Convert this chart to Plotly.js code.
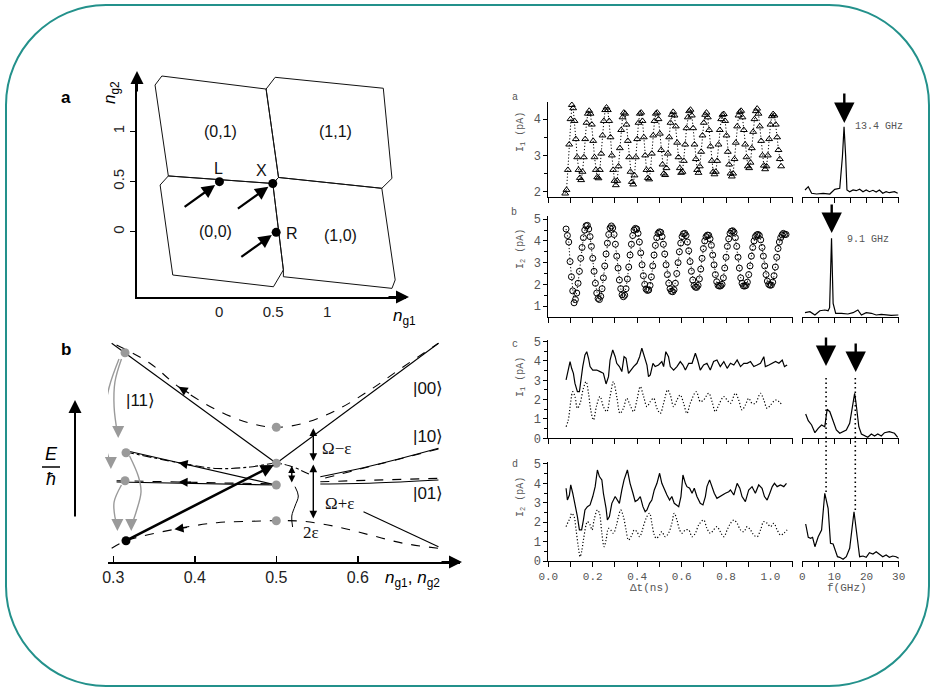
<!DOCTYPE html>
<html><head><meta charset="utf-8">
<script src="https://cdn.plot.ly/plotly-3.0.1.min.js"></script>
<style>html,body{margin:0;padding:0;background:#fff}#chart{width:937px;height:693px}</style>
</head><body><div id="chart"></div>
<script>
// ---------------- Panel a (left): stability diagram cells, (n_g1, n_g2) ----------------
const cell01_ng1 = [-0.47,-0.593,-0.53,0.435,0.55,0.497,-0.47];
const cell01_ng2 = [0.555,1.46,1.55,1.42,0.54,0.48,0.555];
const cell11_ng1 = [0.55,0.435,0.519,1.52,1.6,1.506,0.55];
const cell11_ng2 = [0.54,1.42,1.537,1.428,0.531,0.432,0.54];
const cell00_ng1 = [-0.47,0.497,0.595,0.503,-0.429,-0.546,-0.47];
const cell00_ng2 = [0.555,0.48,-0.38,-0.548,-0.431,0.465,0.555];
const cell10_ng1 = [0.497,0.55,1.506,1.63,1.6,0.595,0.595,0.497];
const cell10_ng2 = [0.48,0.54,0.432,-0.48,-0.564,-0.448,-0.38,0.48];
const cellLabels = ["(0,1)","(1,1)","(0,0)","(1,0)"];
const cellLabelNg1 = [0.009,1.074,-0.037,1.12];
const cellLabelNg2 = [0.996,0.996,0.0,-0.033];
const pointNames = ["L","X","R"];
const pointNg1 = [0.003,0.497,0.528];
const pointNg2 = [0.498,0.48,-0.006];
const pointNameNg1 = [-0.006,0.395,0.673];
const pointNameNg2 = [0.631,0.614,-0.016];
const arrowTipNg1 = [-0.037,0.456,0.488];
const arrowTipNg2 = [0.465,0.448,-0.033];
const axisTicksA = [0,0.5,1];

// ---------------- Panel b (left): energy levels vs n_g ----------------
const bTicks = [0.3,0.4,0.5,0.6];
const d1N = [0.304,0.345,0.38,0.427,0.468,0.5,0.533,0.574,0.615,0.656,0.699];
const d1E = [2.17,1.987,1.753,1.52,1.387,1.347,1.387,1.52,1.72,1.953,2.187];
const s1N = [0.298,0.5];            const s1E = [2.187,0.987];
const s2N = [0.5,0.699];            const s2E = [0.987,2.187];
const s3N = [0.312,0.5];            const s3E = [1.12,0.77];
const d2N = [0.314,0.38,0.427,0.468,0.5,0.517,0.54];
const d2E = [1.103,0.993,0.935,0.95,0.987,0.96,0.88];
const d3N = [0.304,0.38,0.5];       const d3E = [0.813,0.80,0.78];
const s4N = [0.304,0.5];            const s4E = [0.80,0.77];
const r1N = [0.554,0.6,0.65,0.699]; const r1E = [0.853,0.93,1.03,1.137];
const r1dN = [0.56,0.632,0.699];    const r1dE = [0.84,0.99,1.13];
const r2N = [0.554,0.62,0.699];     const r2E = [0.78,0.79,0.82];
const r2dN = [0.554,0.699];         const r2dE = [0.803,0.837];
const s5N = [0.607,0.699];          const s5E = [0.503,0.153];
const d4N = [0.298,0.316,0.375,0.427,0.468,0.5,0.533,0.574,0.615,0.656,0.699];
const d4E = [0.137,0.213,0.327,0.393,0.407,0.413,0.407,0.353,0.27,0.187,0.137];
const grayDotN = [0.3144,0.3156,0.3144,0.5,0.5,0.5,0.5];
const grayDotE = [2.093,1.093,0.813,1.347,0.987,0.77,0.413];
const blackDotN = [0.3156];         const blackDotE = [0.213];
const g1N = [0.307,0.295,0.289,0.291,0.297]; const g1E = [2.03,1.75,1.45,1.15,0.98];
const g2N = [0.31,0.302,0.301,0.305];        const g2E = [2.03,1.8,1.55,1.29];
const g3N = [0.32,0.331,0.334,0.328,0.322];  const g3E = [1.06,0.85,0.7,0.5,0.36];
const g4N = [0.31,0.301,0.302,0.305];        const g4E = [0.77,0.6,0.45,0.36];
const grayTipN = [0.297,0.306,0.322,0.305];  const grayTipE = [0.93,1.24,0.31,0.31];
const waveN = [0.523,0.527,0.523,0.519,0.52]; const waveE = [0.753,0.66,0.56,0.46,0.35];
const ketText = ["|11⟩","|00⟩","|10⟩","|01⟩"];
const ketN = [0.333,0.6865,0.6865,0.6865];   const ketE = [1.62,1.737,1.253,0.687];

// ---------------- Right panels: time traces ----------------
const tA0 = 0.076, dtA = 0.006;
const I1a = [1.95,2.05,2.6,3.3,4.0,4.39,4.3,3.95,3.45,2.95,
 2.6,2.38,2.32,2.55,2.95,3.45,3.9,4.15,4.23,4.15,
 3.85,3.4,2.95,2.6,2.4,2.37,2.6,3.05,3.55,3.95,
 4.25,4.32,4.25,3.95,3.5,3.0,2.6,2.3,2.18,2.3,
 2.7,3.2,3.7,4.05,4.18,4.15,3.85,3.4,2.95,2.55,
 2.27,2.2,2.45,2.95,3.45,3.9,4.15,4.18,3.95,3.5,
 3.0,2.6,2.38,2.34,2.6,3.05,3.55,3.95,4.15,4.18,
 4.0,3.6,3.15,2.75,2.5,2.46,2.65,3.05,3.5,3.9,
 4.12,4.2,4.1,3.8,3.35,2.95,2.65,2.52,2.55,2.85,
 3.3,3.75,4.05,4.22,4.26,4.1,3.75,3.3,2.9,2.6,
 2.52,2.7,3.1,3.55,3.9,4.12,4.18,4.05,3.7,3.25,
 2.85,2.55,2.48,2.55,2.85,3.3,3.7,4.0,4.12,4.14,
 3.95,3.55,3.1,2.75,2.5,2.42,2.5,2.9,3.35,3.8,
 4.1,4.2,4.23,4.05,3.7,3.3,2.95,2.7,2.65,2.8,
 3.2,3.65,4.0,4.22,4.29,4.15,3.8,3.4,3.0,2.72,
 2.62,2.7,3.0,3.45,3.85,4.08,4.14,4.1,3.85,3.5,
 3.15,2.9,2.7];
const tB0 = 0.08, dtB = 0.006;
const I2b = [4.55,4.25,3.95,3.05,2.35,1.7,1.15,1.3,1.6,2.05,
 2.6,3.2,3.7,4.15,4.5,4.7,4.72,4.55,4.2,3.75,
 3.2,2.6,2.05,1.6,1.35,1.3,1.45,1.8,2.3,2.85,
 3.4,3.9,4.3,4.6,4.69,4.6,4.3,3.85,3.3,2.75,
 2.2,1.8,1.52,1.43,1.5,1.8,2.25,2.8,3.35,3.85,
 4.25,4.5,4.58,4.55,4.35,3.95,3.45,2.9,2.4,2.0,
 1.78,1.72,1.74,1.95,2.35,2.85,3.35,3.8,4.15,4.35,
 4.42,4.4,4.2,3.85,3.4,2.9,2.45,2.05,1.8,1.68,
 1.66,1.75,2.05,2.5,3.0,3.5,3.9,4.2,4.33,4.35,
 4.25,3.95,3.55,3.05,2.6,2.2,1.95,1.87,1.86,1.95,
 2.25,2.7,3.2,3.65,4.0,4.2,4.27,4.26,4.1,3.8,
 3.35,2.9,2.45,2.12,1.95,1.92,1.93,2.0,2.3,2.75,
 3.25,3.75,4.1,4.35,4.45,4.47,4.4,4.15,3.75,3.25,
 2.75,2.3,2.05,1.93,1.92,1.95,2.1,2.45,2.85,3.3,
 3.7,4.0,4.2,4.28,4.3,4.25,4.05,3.7,3.3,2.85,
 2.45,2.15,2.0,1.96,1.97,2.1,2.4,2.8,3.25,3.65,
 3.95,4.15,4.28,4.35,4.3,4.3];
const tCm = [0.080,0.083,0.090,0.098,0.105,0.113,0.120,0.131,0.140,0.146,0.155,0.165,0.173,0.181,0.188,0.200,0.218,0.233,0.248,0.260,0.271,0.278,0.290,0.301,0.308,0.320,0.331,0.341,0.350,0.361,0.371,0.384,0.399,0.411,0.421,0.432,0.444,0.451,0.459,0.471,0.481,0.496,0.511,0.519,0.529,0.541,0.549,0.564,0.579,0.594,0.606,0.617,0.632,0.647,0.662,0.672,0.684,0.699,0.714,0.729,0.744,0.759,0.774,0.790,0.805,0.820,0.835,0.850,0.865,0.880,0.895,0.910,0.925,0.940,0.955,0.970,0.977,0.993,1.008,1.023,1.038,1.053,1.063,1.075];
const I1cm = [3.02,3.19,3.71,3.97,3.62,3.36,2.84,2.41,2.41,3.02,3.71,4.31,4.48,4.14,3.71,3.53,3.53,3.45,3.36,2.81,3.19,4.05,4.57,4.22,3.88,3.71,3.45,4.22,4.14,3.36,3.53,3.71,3.88,4.22,4.66,4.22,3.79,3.19,3.28,3.88,3.71,3.79,3.97,3.71,4.48,4.22,3.71,3.53,3.71,3.97,3.79,3.53,3.88,3.88,4.4,4.05,3.53,3.79,3.88,3.53,3.97,4.05,3.71,3.97,3.62,3.88,3.79,4.05,3.71,3.88,3.88,3.97,3.71,3.79,3.88,4.22,3.71,3.79,3.88,3.97,3.88,4.05,3.71,3.79];
const tCs = [0.080,0.090,0.101,0.110,0.120,0.131,0.143,0.158,0.170,0.181,0.191,0.203,0.218,0.233,0.248,0.263,0.278,0.293,0.308,0.323,0.338,0.353,0.368,0.384,0.399,0.414,0.429,0.444,0.459,0.474,0.489,0.504,0.519,0.537,0.549,0.564,0.579,0.594,0.609,0.624,0.639,0.666,0.684,0.699,0.722,0.737,0.752,0.767,0.790,0.805,0.820,0.842,0.857,0.872,0.887,0.902,0.917,0.932,0.955,0.970,0.985,1.000,1.023,1.038,1.053];
const I1cs = [0.6,0.95,1.9,2.41,2.16,1.55,1.81,2.59,2.93,2.33,1.47,0.95,1.72,2.16,1.64,1.38,2.16,2.93,2.16,1.29,1.55,2.07,1.72,1.38,1.98,2.67,2.16,1.64,1.9,2.07,1.55,1.29,1.81,2.5,2.24,1.64,1.98,2.24,1.81,1.29,1.81,2.41,1.9,1.98,2.33,1.9,1.38,1.72,2.16,1.98,1.81,2.33,1.98,1.47,1.72,2.07,1.81,1.81,2.33,1.98,1.55,1.72,1.98,1.9,1.72];
const tDm = [0.080,0.086,0.095,0.101,0.110,0.120,0.131,0.140,0.150,0.158,0.165,0.176,0.188,0.200,0.211,0.221,0.230,0.241,0.248,0.260,0.266,0.275,0.286,0.301,0.311,0.320,0.331,0.341,0.356,0.368,0.381,0.391,0.402,0.414,0.426,0.436,0.444,0.456,0.466,0.477,0.489,0.501,0.511,0.522,0.534,0.546,0.556,0.567,0.576,0.587,0.597,0.606,0.617,0.624,0.636,0.647,0.657,0.669,0.684,0.696,0.707,0.714,0.726,0.737,0.747,0.759,0.771,0.782,0.797,0.812,0.820,0.835,0.850,0.862,0.872,0.887,0.902,0.917,0.932,0.947,0.962,0.973,0.985,0.997,1.008,1.018,1.030,1.045,1.060,1.072];
const I2dm = [3.75,3.14,3.4,3.92,3.49,2.97,2.29,1.6,1.6,2.11,2.63,2.8,2.89,3.32,3.83,4.69,4.35,4.18,3.49,2.71,2.11,2.29,2.97,3.32,3.14,2.97,3.66,4.18,4.69,4.0,3.49,3.06,3.14,3.32,2.8,2.54,2.63,2.97,3.14,3.66,4.0,4.52,4.0,3.66,3.4,3.14,3.32,2.97,2.89,2.8,3.32,4.43,4.0,3.83,3.75,3.49,3.75,3.32,2.97,2.89,3.32,3.83,4.18,3.83,3.49,3.23,3.32,3.4,3.49,3.57,3.66,3.4,4.0,3.75,3.32,3.06,3.66,3.83,3.49,3.92,3.75,3.32,3.14,3.49,3.83,4.0,3.83,3.92,3.83,4.0];
const tDs = [0.080,0.090,0.098,0.105,0.116,0.125,0.135,0.143,0.150,0.158,0.170,0.176,0.188,0.197,0.206,0.221,0.230,0.241,0.251,0.260,0.271,0.281,0.293,0.305,0.316,0.326,0.338,0.350,0.361,0.376,0.387,0.399,0.411,0.421,0.432,0.444,0.456,0.466,0.477,0.486,0.501,0.511,0.526,0.541,0.556,0.567,0.579,0.591,0.602,0.617,0.632,0.647,0.662,0.677,0.699,0.714,0.729,0.744,0.759,0.774,0.790,0.805,0.820,0.835,0.850,0.865,0.880,0.895,0.910,0.925,0.940,0.955,0.970,0.985,1.000,1.015,1.030,1.045,1.060,1.075];
const I2ds = [1.77,2.03,2.2,2.46,2.29,1.6,0.74,0.22,0.48,1.08,1.86,2.03,1.86,1.6,2.11,2.63,2.46,1.43,0.74,1.08,1.68,1.6,1.43,1.77,2.29,2.63,2.29,1.6,1.08,1.34,1.6,1.51,1.25,1.51,1.94,2.29,2.46,1.94,1.34,1.17,1.34,1.51,1.25,1.43,1.94,2.46,2.11,1.6,1.43,1.6,1.6,1.25,1.43,1.86,2.11,1.68,1.43,1.6,1.77,1.51,1.25,1.6,1.94,2.11,1.94,1.6,1.51,1.77,1.6,1.34,1.25,1.6,2.03,1.94,1.77,1.94,1.6,1.34,1.43,1.6];

// ---------------- Right panels: spectra (f in GHz, arbitrary amplitude) ----------------
const fA = [0.84,1.86,2.9,4.45,6.5,8.57,10.1,11.66,12.5,13.0,13.5,13.9,14.75,15.8,16.8,17.85,18.9,19.9,20.9,22.0,23.0,24.0,25.05,26.1,27.1,28.7,29.7];
const SA = [0.73,1.06,0.4,0.33,0.4,0.33,0.8,0.9,4.1,7.06,4.1,0.73,0.56,0.73,0.66,0.8,0.56,0.73,0.56,0.7,0.53,0.73,0.4,0.56,0.46,0.56,0.4];
const fB = [0.84,2.38,3.93,5.47,7.0,8.04,8.5,9.1,9.6,10.4,12.2,14.2,15.8,17.3,18.4,19.9,21.5,23.0,24.6,26.1,27.65,29.9];
const SB = [0.4,0.5,0.17,0.6,0.67,0.6,0.9,7.84,1.34,0.34,0.34,0.27,0.4,0.67,0.17,0.4,0.34,0.17,0.24,0.2,0.14,0.17];
const fC = [1.05,1.86,2.9,3.93,4.95,6.0,7.0,7.73,8.57,9.6,10.6,11.66,12.7,13.7,14.75,15.6,16.3,16.8,17.6,18.4,19.4,20.4,21.5,22.5,23.5,24.6,25.6,27.1,28.7,29.7];
const SC = [2.43,1.76,1.33,0.56,1.0,1.33,1.16,2.9,2.66,1.66,0.83,0.5,0.66,0.83,1.5,3.16,4.5,3.33,1.16,0.43,0.23,0.1,0.43,0.23,0.43,0.23,0.56,0.66,0.5,0.1];
const fD = [1.05,1.86,2.6,3.2,3.93,4.95,6.0,7.0,8.04,8.78,9.6,10.1,10.95,11.66,12.7,13.7,14.75,16.1,16.8,17.85,18.9,19.9,20.9,22.0,23.0,24.0,25.05,26.1,27.1,28.15,29.2,30.0];
const SD = [3.7,2.37,2.27,2.37,1.43,2.43,3.1,6.77,5.27,1.77,1.7,1.27,0.43,0.37,0.17,0.43,1.27,4.93,3.1,0.43,0.5,0.37,0.83,0.7,0.93,0.7,0.43,0.6,0.37,0.5,0.43,0.27];
const peakFreqs = [7.4,16.5];
const tTickVals = [0,0.2,0.4,0.6,0.8,1.0];
const tTickText = ["0.0","0.2","0.4","0.6","0.8","1.0"];
const fTickVals = [0,10,20,30];

// ---------------- drawing ----------------
const W = 937, H = 693;
const px = x => x / W, py = y => 1 - y / H;
const sans = "Liberation Sans, Arial, sans-serif";
const mono = "Liberation Mono, Courier New, monospace";
const serif = "Liberation Serif, Times New Roman, serif";
const grid = (t0, dt, n) => Array.from({length:n}, (_, i) => +(t0 + dt * i).toFixed(4));
const tA = grid(tA0, dtA, I1a.length);
const tB = grid(tB0, dtB, I2b.length);
const FINE_DOT = '1.2px,2px';

const traces = [];
const line = (x, y, xa, ya, opt) => traces.push(Object.assign({x, y, xaxis: xa, yaxis: ya, type: 'scatter', mode: 'lines', hoverinfo: 'skip', line: {color: '#000', width: 1}}, opt || {}));

// panel a cells
[[cell01_ng1,cell01_ng2],[cell11_ng1,cell11_ng2],[cell00_ng1,cell00_ng2],[cell10_ng1,cell10_ng2]].forEach(c => line(c[0], c[1], 'x', 'y', {line:{color:'#111',width:1}}));
traces.push({x: pointNg1, y: pointNg2, xaxis:'x', yaxis:'y', type:'scatter', mode:'markers', marker:{color:'#000', size:9}, hoverinfo:'skip'});

// panel b energy levels
line(d1N, d1E, 'x2', 'y2', {line:{color:'#000', width:1.1, dash:'dash', shape:'spline'}});
line(s1N, s1E, 'x2', 'y2', {line:{color:'#000', width:1.1}});
line(s2N, s2E, 'x2', 'y2', {line:{color:'#000', width:1.1}});
line(s3N, s3E, 'x2', 'y2', {line:{color:'#000', width:1.1}});
line(d2N, d2E, 'x2', 'y2', {line:{color:'#000', width:1.1, dash:'dashdot', shape:'spline'}});
line(d3N, d3E, 'x2', 'y2', {line:{color:'#000', width:1.1, dash:'dash'}});
line(s4N, s4E, 'x2', 'y2', {line:{color:'#000', width:1.1}});
line(r1N, r1E, 'x2', 'y2', {line:{color:'#000', width:1.1, shape:'spline'}});
line(r1dN, r1dE, 'x2', 'y2', {line:{color:'#000', width:1.1, dash:'dash', shape:'spline'}});
line(r2N, r2E, 'x2', 'y2', {line:{color:'#000', width:1.1, shape:'spline'}});
line(r2dN, r2dE, 'x2', 'y2', {line:{color:'#000', width:1.1, dash:'dash'}});
line(s5N, s5E, 'x2', 'y2', {line:{color:'#000', width:1.1}});
line(d4N, d4E, 'x2', 'y2', {line:{color:'#000', width:1.1, dash:'dash', shape:'spline'}});
[[g1N,g1E],[g2N,g2E],[g3N,g3E],[g4N,g4E]].forEach(g => line(g[0], g[1], 'x2', 'y2', {line:{color:'#9a9a9a', width:1.4, shape:'spline'}}));
line(waveN, waveE, 'x2', 'y2', {line:{color:'#000', width:1, shape:'spline'}});
traces.push({x: grayDotN, y: grayDotE, xaxis:'x2', yaxis:'y2', type:'scatter', mode:'markers', marker:{color:'#9a9a9a', size:9}, hoverinfo:'skip'});
traces.push({x: blackDotN, y: blackDotE, xaxis:'x2', yaxis:'y2', type:'scatter', mode:'markers', marker:{color:'#000', size:9}, hoverinfo:'skip'});

// right: time traces
traces.push({x: tA, y: I1a, xaxis:'x3', yaxis:'y3', type:'scatter', mode:'lines+markers', line:{color:'#000', width:1, dash:FINE_DOT}, marker:{symbol:'triangle-up-open', size:6, color:'#000', line:{width:1}}, hoverinfo:'skip'});
traces.push({x: tB, y: I2b, xaxis:'x4', yaxis:'y4', type:'scatter', mode:'lines+markers', line:{color:'#000', width:1, dash:FINE_DOT}, marker:{symbol:'circle-open', size:6, color:'#000', line:{width:1}}, hoverinfo:'skip'});
line(tCm, I1cm, 'x5', 'y5', {line:{color:'#000', width:1.2}});
line(tCs, I1cs, 'x5', 'y5', {line:{color:'#000', width:1.2, dash:FINE_DOT, shape:'spline'}});
line(tDm, I2dm, 'x6', 'y6', {line:{color:'#000', width:1.2}});
line(tDs, I2ds, 'x6', 'y6', {line:{color:'#000', width:1.2, dash:FINE_DOT, shape:'spline'}});
// spectra
line(fA, SA, 'x7', 'y7', {line:{color:'#000', width:1.2}});
line(fB, SB, 'x8', 'y8', {line:{color:'#000', width:1.2}});
line(fC, SC, 'x9', 'y9', {line:{color:'#000', width:1.2}});
line(fD, SD, 'x10', 'y10', {line:{color:'#000', width:1.2}});

// axes
const tx = (anchor, labels) => ({domain:[px(548.3), px(792.7)], range:[0, 1.1], anchor, showline:true, linecolor:'#000', linewidth:1,
  ticks:'outside', ticklen:5, tickcolor:'#000', tickvals: tTickVals, ticktext: tTickText,
  minor:{dtick:0.1, tick0:0, ticks:'outside', ticklen:5, tickcolor:'#000'},
  showticklabels: labels, showgrid:false, zeroline:false, tickfont:{family:mono, size:11, color:'#555'}, fixedrange:true});
const ty = (anchor, top, bottom, range) => ({domain:[py(bottom), py(top)], range, anchor, showline:true, linecolor:'#000', linewidth:1,
  ticks:'outside', ticklen:4, tickcolor:'#000', dtick:1, tick0:0,
  minor:{dtick:0.5, tick0:0, ticks:'outside', ticklen:3, tickcolor:'#000'},
  showgrid:false, zeroline:false, tickfont:{family:mono, size:12, color:'#555'}, fixedrange:true});
const fx = (anchor, labels) => ({domain:[px(802.3), px(899.3)], range:[0, 30.2], anchor, showline:true, linecolor:'#000', linewidth:1,
  ticks:'outside', ticklen:5, tickcolor:'#000', tickvals: fTickVals,
  minor:{dtick:5, tick0:0, ticks:'outside', ticklen:5, tickcolor:'#000'},
  showticklabels: labels, showgrid:false, zeroline:false, tickfont:{family:mono, size:11, color:'#555'}, fixedrange:true});
const fy = (anchor, top, bottom, range) => ({domain:[py(bottom), py(top)], range, anchor, visible:false, fixedrange:true});

const layout = {
  width: W, height: H, margin:{l:0, r:0, t:0, b:0}, showlegend:false,
  paper_bgcolor:'#fff', plot_bgcolor:'rgba(0,0,0,0)', font:{family:sans, color:'#000'},
  xaxis:{domain:[px(137), px(406)], range:[-0.76, 1.73], anchor:'y', showline:true, linecolor:'#000', linewidth:2,
    tickvals: axisTicksA, ticktext:['0','0.5','1'], ticks:'', showgrid:false, zeroline:false,
    tickfont:{family:sans, size:15, color:'#222'}, fixedrange:true},
  yaxis:{domain:[py(297), py(75)], range:[-0.65, 1.56], anchor:'x', showline:true, linecolor:'#000', linewidth:2,
    tickvals: axisTicksA, ticktext:['0','0.5','1'], ticks:'outside', ticklen:5, tickcolor:'#000', tickangle:-90,
    showgrid:false, zeroline:false, tickfont:{family:sans, size:15, color:'#222'}, fixedrange:true},
  xaxis2:{domain:[px(108), px(460)], range:[0.2935, 0.7254], anchor:'y2', showline:true, linecolor:'#000', linewidth:2,
    tickvals: bTicks, ticktext:['0.3','0.4','0.5','0.6'], ticks:'inside', ticklen:6, tickwidth:1.5, tickcolor:'#000',
    showgrid:false, zeroline:false, tickfont:{family:sans, size:16, color:'#222'}, fixedrange:true},
  yaxis2:{domain:[py(562), py(332)], range:[0, 2.3], anchor:'x2', visible:false, fixedrange:true},
  xaxis3: tx('y3', false), yaxis3: ty('x3', 101.7, 197.3, [1.846, 4.48]),
  xaxis4: tx('y4', false), yaxis4: ty('x4', 216, 316.7, [0.51, 5.15]),
  xaxis5: tx('y5', false), yaxis5: ty('x5', 339.7, 438.3, [0, 5.1]),
  xaxis6: tx('y6', true),  yaxis6: ty('x6', 462, 561, [0, 5.1]),
  xaxis7: fx('y7', false), yaxis7: fy('x7', 101.7, 197.3, [0, 9.56]),
  xaxis8: fx('y8', false), yaxis8: fy('x8', 216, 316.7, [0, 10.07]),
  xaxis9: fx('y9', false), yaxis9: fy('x9', 339.7, 438.3, [0, 9.86]),
  xaxis10: fx('y10', true), yaxis10: fy('x10', 462, 561, [0, 9.9])
};

// rounded frame
const R = 100, k = 0.5523;
const X0 = px(6), X1 = px(929), YT = py(5), YB = py(686), rx = R / W, ry = R / H;
const framePath = `M ${X0+rx} ${YT} L ${X1-rx} ${YT} C ${X1-rx+k*rx} ${YT} ${X1} ${YT-ry+k*ry} ${X1} ${YT-ry} ` +
  `L ${X1} ${YB+ry} C ${X1} ${YB+ry-k*ry} ${X1-rx+k*rx} ${YB} ${X1-rx} ${YB} ` +
  `L ${X0+rx} ${YB} C ${X0+rx-k*rx} ${YB} ${X0} ${YB+ry-k*ry} ${X0} ${YB+ry} ` +
  `L ${X0} ${YT-ry} C ${X0} ${YT-ry+k*ry} ${X0+rx-k*rx} ${YT} ${X0+rx} ${YT} Z`;
layout.shapes = [
  {type:'path', xref:'paper', yref:'paper', path: framePath, line:{color:'#23918b', width:2}, layer:'below'},
  {type:'line', xref:'x9', yref:'paper', x0:peakFreqs[0], x1:peakFreqs[0], y0:py(378), y1:py(493), line:{color:'#000', width:1.6, dash:'1.5px,3px'}},
  {type:'line', xref:'x9', yref:'paper', x0:peakFreqs[1], x1:peakFreqs[1], y0:py(378), y1:py(511), line:{color:'#000', width:1.6, dash:'1.5px,3px'}},
  {type:'line', xref:'paper', yref:'paper', x0:px(42), x1:px(60), y0:py(467), y1:py(467), line:{color:'#000', width:1.5}}
];

const ann = [];
const T = (x, y, text, size, family, extra) => ann.push(Object.assign({xref:'paper', yref:'paper', x:px(x), y:py(y), text, showarrow:false,
  font:{family: family || sans, size, color:'#000'}, xanchor:'center', yanchor:'middle'}, extra || {}));
const A = (o) => ann.push(Object.assign({text:'', showarrow:true, arrowhead:2, arrowsize:1.3, arrowwidth:2, arrowcolor:'#000'}, o));

// panel a texts
T(66, 97, '<b>a</b>', 17);
T(66, 349, '<b>b</b>', 17);
T(111, 93, '<i>n</i><sub>g2</sub>', 17, sans, {textangle:-90});
T(404, 317, '<i>n</i><sub>g1</sub>', 17);
cellLabels.forEach((s, i) => ann.push({xref:'x', yref:'y', x:cellLabelNg1[i], y:cellLabelNg2[i], text:s, showarrow:false, font:{family:sans, size:16, color:'#111'}}));
pointNames.forEach((s, i) => ann.push({xref:'x', yref:'y', x:pointNameNg1[i], y:pointNameNg2[i], text:s, showarrow:false, font:{family:sans, size:16, color:'#111'}}));
arrowTipNg1.forEach((x, i) => A({xref:'x', yref:'y', x, y:arrowTipNg2[i], ax:-32, ay:23, arrowsize:1.2, arrowwidth:2.2}));
A({xref:'paper', yref:'paper', x:px(409), y:py(297), ax:-22, ay:0, arrowsize:1.3});
A({xref:'paper', yref:'paper', x:px(137), y:py(71), ax:0, ay:22, arrowsize:1.3});

// panel b texts and arrows
A({xref:'paper', yref:'paper', x:px(462), y:py(562), ax:-22, ay:0, arrowsize:1.3});
A({xref:'paper', yref:'paper', x:px(75), y:py(400), ax:0, ay:118, arrowsize:1.3});
T(51, 454, '<i>E</i>', 18);
T(51, 479, '<i>ħ</i>', 18);
T(412, 579, '<i>n</i><sub>g1</sub>, <i>n</i><sub>g2</sub>', 17);
ketText.forEach((s, i) => ann.push({xref:'x2', yref:'y2', x:ketN[i], y:ketE[i], text:s, showarrow:false, font:{family:sans, size:17, color:'#111'}}));
ann.push({xref:'x2', yref:'y2', x:0.574, y:1.137, text:'Ω−ε', showarrow:false, font:{family:serif, size:17, color:'#111'}});
ann.push({xref:'x2', yref:'y2', x:0.578, y:0.587, text:'Ω+ε', showarrow:false, font:{family:serif, size:17, color:'#111'}});
ann.push({xref:'x2', yref:'y2', x:0.542, y:0.30, text:'2ε', showarrow:false, font:{family:serif, size:17, color:'#111'}});
// direction arrows on adiabatic curves
A({xref:'x2', yref:'y2', x:0.38, y:1.753, ax:12, ay:7.5, arrowsize:1.4, arrowwidth:1.3});
A({xref:'x2', yref:'y2', x:0.38, y:0.993, ax:14, ay:2.7, arrowsize:1.4, arrowwidth:1.3});
A({xref:'x2', yref:'y2', x:0.38, y:0.80, ax:14, ay:0.3, arrowsize:1.4, arrowwidth:1.3});
A({xref:'x2', yref:'y2', x:0.375, y:0.327, ax:14, ay:-2.2, arrowsize:1.4, arrowwidth:1.3});
// excitation arrow
A({xref:'x2', yref:'y2', axref:'x2', ayref:'y2', x:0.497, y:0.97, ax:0.3156, ay:0.213, arrowsize:1.0, arrowwidth:2.6});
// gap double arrows
A({xref:'x2', yref:'y2', axref:'x2', ayref:'y2', x:0.5454, y:1.337, ax:0.5454, ay:0.995, arrowside:'end+start', arrowsize:1.1, arrowwidth:1.4});
A({xref:'x2', yref:'y2', axref:'x2', ayref:'y2', x:0.5454, y:0.975, ax:0.5454, ay:0.42, arrowside:'end+start', arrowsize:1.1, arrowwidth:1.4});
A({xref:'x2', yref:'y2', axref:'x2', ayref:'y2', x:0.519, y:0.96, ax:0.519, ay:0.78, arrowside:'end+start', arrowsize:1.0, arrowwidth:1.4});
// gray relaxation arrowheads
grayTipN.forEach((x, i) => A({xref:'x2', yref:'y2', x, y:grayTipE[i], ax:0, ay:-9, arrowcolor:'#9a9a9a', arrowsize:1.6, arrowwidth:1.5}));

// right panels texts
const gray = '#555';
const M = (x, y, text, size, extra) => T(x, y, text, size, mono, Object.assign({font:{family:mono, size, color:gray}}, extra || {}));
M(515, 97, 'a', 10); M(514, 213, 'b', 10); M(515, 344, 'c', 10); M(515, 464, 'd', 10);
M(521, 132, 'I<sub>1</sub> (pA)', 10, {textangle:-90});
M(521, 249, 'I<sub>2</sub> (pA)', 10, {textangle:-90});
M(521, 377, 'I<sub>1</sub> (pA)', 10, {textangle:-90});
M(521, 497, 'I<sub>2</sub> (pA)', 10, {textangle:-90});
M(650, 588, 'Δt(ns)', 11);
M(847, 588, 'f(GHz)', 11);
M(879, 126, '13.4 GHz', 10);
M(868, 239, '9.1 GHz', 10);
A({xref:'paper', yref:'paper', x:px(844.3), y:py(123), ax:0, ay:-31, arrowsize:1.7, arrowwidth:2.4});
A({xref:'paper', yref:'paper', x:px(831.7), y:py(233), ax:0, ay:-30, arrowsize:1.7, arrowwidth:2.4});
A({xref:'paper', yref:'paper', x:px(826), y:py(366), ax:0, ay:-30, arrowsize:1.7, arrowwidth:2.4});
A({xref:'paper', yref:'paper', x:px(855.7), y:py(372), ax:0, ay:-30, arrowsize:1.7, arrowwidth:2.4});

layout.annotations = ann;
Plotly.newPlot('chart', traces, layout, {staticPlot:true, displayModeBar:false});
</script></body></html>
